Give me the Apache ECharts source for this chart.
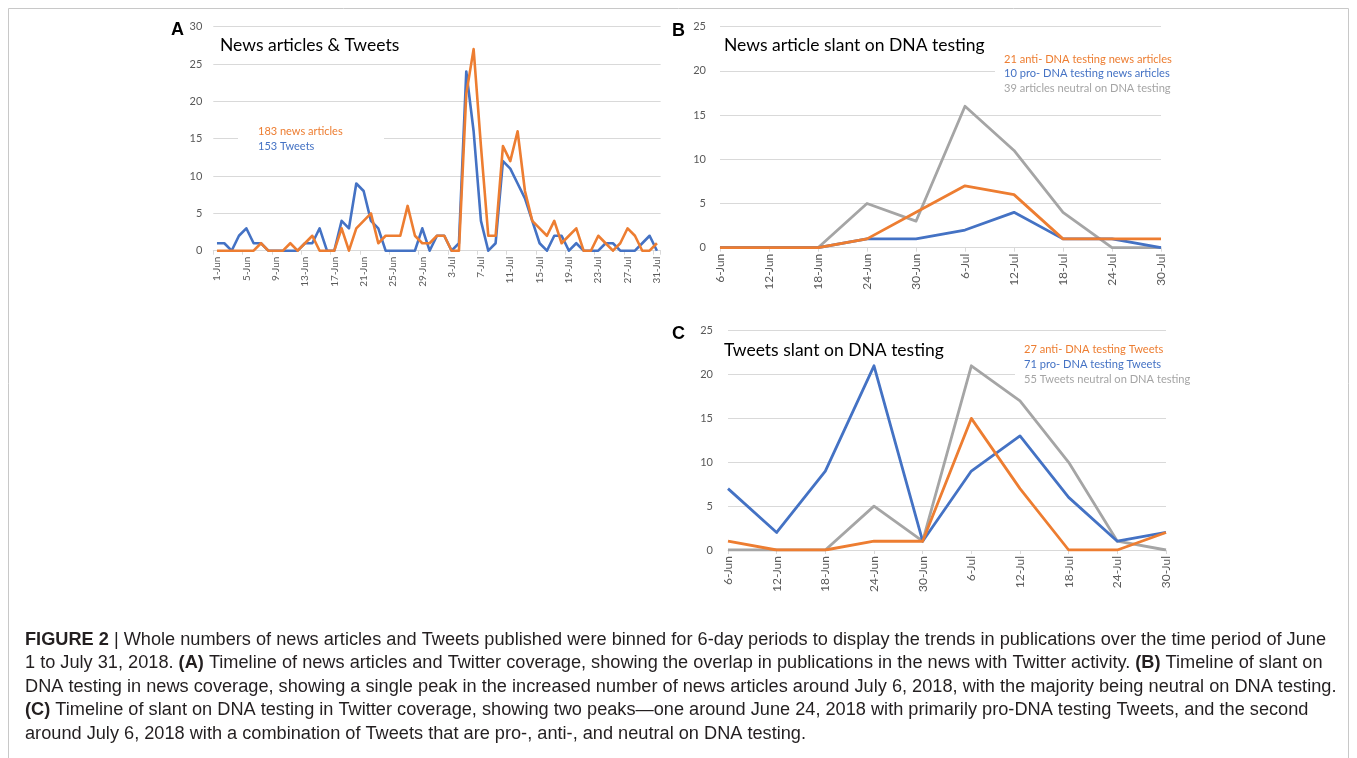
<!DOCTYPE html>
<html><head><meta charset="utf-8">
<script src="https://cdn.jsdelivr.net/npm/echarts@6/dist/echarts.min.js"></script>
<style>html,body{margin:0;padding:0;background:#fff;}#c{width:1357px;height:758px;}</style>
</head><body><div id="c"></div>
<script>
// ---------- DATA ----------
const days = ['1-Jun','2-Jun','3-Jun','4-Jun','5-Jun','6-Jun','7-Jun','8-Jun','9-Jun','10-Jun',
  '11-Jun','12-Jun','13-Jun','14-Jun','15-Jun','16-Jun','17-Jun','18-Jun','19-Jun','20-Jun',
  '21-Jun','22-Jun','23-Jun','24-Jun','25-Jun','26-Jun','27-Jun','28-Jun','29-Jun','30-Jun',
  '1-Jul','2-Jul','3-Jul','4-Jul','5-Jul','6-Jul','7-Jul','8-Jul','9-Jul','10-Jul',
  '11-Jul','12-Jul','13-Jul','14-Jul','15-Jul','16-Jul','17-Jul','18-Jul','19-Jul','20-Jul',
  '21-Jul','22-Jul','23-Jul','24-Jul','25-Jul','26-Jul','27-Jul','28-Jul','29-Jul','30-Jul','31-Jul'];
const newsArticles = [0,0,0,0,0,0,1,0,0,0,1,0,1,2,0,0,0,3,0,3,4,5,1,2,2,2,6,2,1,1,
  2,2,0,0,21,27,14,2,2,14,12,16,8,4,3,2,4,1,2,3,0,0,2,1,0,1,3,2,0,0,1];
const tweets = [1,1,0,2,3,1,1,0,0,0,0,0,1,1,3,0,0,4,3,9,8,4,3,0,0,0,0,0,3,0,
  2,2,0,1,24,16,4,0,1,12,11,9,7,4,1,0,2,2,0,1,0,0,0,1,1,0,0,0,1,2,0];

const binDates = ['6-Jun','12-Jun','18-Jun','24-Jun','30-Jun','6-Jul','12-Jul','18-Jul','24-Jul','30-Jul'];
const newsAnti    = [0,0,0,1,4,7,6,1,1,1];
const newsPro     = [0,0,0,1,1,2,4,1,1,0];
const newsNeutral = [0,0,0,5,3,16,11,4,0,0];
const tweetAnti    = [1,0,0,1,1,15,7,0,0,2];
const tweetPro     = [7,2,9,21,1,9,13,6,1,2];
const tweetNeutral = [0,0,0,5,1,21,17,10,1,0];

const yMaxA = 30, yMaxBC = 25, yStep = 5;

const panelTitles = ['News articles & Tweets','News article slant on DNA testing','Tweets slant on DNA testing'];
const legendA = ['183 news articles','153 Tweets'];
const legendB = ['21 anti- DNA testing news articles','10 pro- DNA testing news articles','39 articles neutral on DNA testing'];
const legendC = ['27 anti- DNA testing Tweets','71 pro- DNA testing Tweets','55 Tweets neutral on DNA testing'];

const captionLines = [
  [{t:'FIGURE 2 ',b:1},{t:'| Whole numbers of news articles and Tweets published were binned for 6-day periods to display the trends in publications over the time period of June'}],
  [{t:'1 to July 31, 2018. '},{t:'(A)',b:1},{t:' Timeline of news articles and Twitter coverage, showing the overlap in publications in the news with Twitter activity. '},{t:'(B)',b:1},{t:' Timeline of slant on'}],
  [{t:'DNA testing in news coverage, showing a single peak in the increased number of news articles around July 6, 2018, with the majority being neutral on DNA testing.'}],
  [{t:'(C)',b:1},{t:' Timeline of slant on DNA testing in Twitter coverage, showing two peaks\u2014one around June 24, 2018 with primarily pro-DNA testing Tweets, and the second'}],
  [{t:'around July 6, 2018 with a combination of Tweets that are pro-, anti-, and neutral on DNA testing.'}]
];

// ---------- STYLE ----------
const ORANGE = '#ED7D31', BLUE = '#4472C4', GRAY = '#A5A5A5';
const GRID = '#D9D9D9', LABEL = '#595959';
const FONT = 'Lato';
const CAPFONT = "'Liberation Sans Narrow','Liberation Sans',Arial,sans-serif";
const CAPSIZE = 18;

function xAxisCfg(idx, data, gap, fs, every) {
  return {
    gridIndex: idx, type: 'category', data: data, boundaryGap: gap,
    axisLine: {lineStyle: {color: GRID, width: 1}},
    axisTick: {show: true, interval: every, length: 4, lineStyle: {color: GRID}},
    axisLabel: {interval: every, rotate: 90, fontSize: fs, color: LABEL, fontFamily: FONT, margin: 6},
    splitLine: {show: false}
  };
}
function yAxisCfg(idx, max, margin) {
  return {
    gridIndex: idx, type: 'value', min: 0, max: max, interval: yStep,
    axisLine: {show: false}, axisTick: {show: false},
    splitLine: {lineStyle: {color: GRID, width: 1}},
    axisLabel: {fontSize: 11, color: LABEL, fontFamily: FONT, margin: margin}
  };
}
function line(idx, data, color, w, z) {
  return {type: 'line', xAxisIndex: idx, yAxisIndex: idx, data: data, symbol: 'none',
    lineStyle: {color: color, width: w, join: 'round'}, itemStyle: {color: color}, z: z, animation: false};
}

// caption scaling (fit the condensed look of the original)
function measure(parts) {
  const ctx = document.createElement('canvas').getContext('2d');
  let w = 0;
  parts.forEach(p => { ctx.font = (p.b ? 'bold ' : '') + CAPSIZE + 'px ' + CAPFONT; w += ctx.measureText(p.t).width; });
  return w;
}
const capScale = 1301 / measure(captionLines[0]);
const capY = [640, 663.5, 687, 710.5, 734];

function txt(x, y, text, color, size, opts) {
  opts = opts || {};
  return {type: 'text', x: x, y: y, z: 100,
    style: {text: text, fill: color, fontSize: size, fontFamily: opts.family || FONT,
      fontWeight: opts.weight || 'normal',
      align: 'left', textAlign: 'left', verticalAlign: 'middle', textVerticalAlign: 'middle'}};
}
function box(x, y, w, h) {
  return {type: 'rect', shape: {x: x, y: y, width: w, height: h}, style: {fill: '#fff'}, z: 90};
}

const graphics = [
  {type: 'rect', shape: {x: 8.5, y: 8.5, width: 1340, height: 800}, style: {fill: 'none', stroke: '#c8c8c8', lineWidth: 1}, z: 1},
  txt(171, 30, 'A', '#000', 18, {family: "'Liberation Sans',Arial", weight: 'bold'}),
  txt(672, 31, 'B', '#000', 18, {family: "'Liberation Sans',Arial", weight: 'bold'}),
  txt(672, 334, 'C', '#000', 18, {family: "'Liberation Sans',Arial", weight: 'bold'}),
  txt(220, 45, panelTitles[0], '#000', 17.5),
  txt(724, 45, panelTitles[1], '#000', 17.5),
  txt(724, 350, panelTitles[2], '#000', 17.5),
  box(238, 121, 146, 33),
  txt(258, 131.5, legendA[0], ORANGE, 11),
  txt(258, 146.5, legendA[1], BLUE, 11),
  box(995, 50, 195, 46),
  txt(1004, 59, legendB[0], ORANGE, 11.1),
  txt(1004, 73.5, legendB[1], BLUE, 11.1),
  txt(1004, 88.5, legendB[2], GRAY, 11.1),
  box(1015, 340, 190, 47),
  txt(1024, 349.5, legendC[0], ORANGE, 11.1),
  txt(1024, 364.5, legendC[1], BLUE, 11.1),
  txt(1024, 379.5, legendC[2], GRAY, 11.1)
];
captionLines.forEach((parts, i) => {
  const s = parts.map(p => (p.b ? '{b|' : '{n|') + p.t + '}').join('');
  graphics.push({type: 'text', x: 25, y: capY[i], scaleX: capScale, z: 100,
    style: {text: s, fill: '#231f20', fontSize: CAPSIZE, fontFamily: CAPFONT,
      align: 'left', textAlign: 'left', verticalAlign: 'middle', textVerticalAlign: 'middle',
      rich: {b: {fontWeight: 'bold', fontSize: CAPSIZE, fontFamily: CAPFONT, fill: '#231f20'},
             n: {fontWeight: 'normal', fontSize: CAPSIZE, fontFamily: CAPFONT, fill: '#231f20'}}}});
});

const chart = echarts.init(document.getElementById('c'), null, {renderer: 'canvas'});
chart.setOption({
  backgroundColor: '#fff',
  animation: false,
  grid: [
    {left: 213.3, top: 26.7, width: 447.3, height: 224},
    {left: 720, top: 26.7, width: 441, height: 221},
    {left: 728, top: 330.7, width: 438, height: 219.3}
  ],
  xAxis: [
    xAxisCfg(0, days, true, 10, 3),
    xAxisCfg(1, binDates, false, 12, 0),
    xAxisCfg(2, binDates, false, 12, 0)
  ],
  yAxis: [
    yAxisCfg(0, yMaxA, 11),
    yAxisCfg(1, yMaxBC, 14),
    yAxisCfg(2, yMaxBC, 15)
  ],
  series: [
    line(0, tweets, BLUE, 2.6, 2),
    line(0, newsArticles, ORANGE, 2.6, 3),
    line(1, newsNeutral, GRAY, 2.8, 2),
    line(1, newsPro, BLUE, 2.8, 3),
    line(1, newsAnti, ORANGE, 2.8, 4),
    line(2, tweetNeutral, GRAY, 2.8, 2),
    line(2, tweetPro, BLUE, 2.8, 3),
    line(2, tweetAnti, ORANGE, 2.8, 4)
  ],
  graphic: graphics
});
</script></body></html>
